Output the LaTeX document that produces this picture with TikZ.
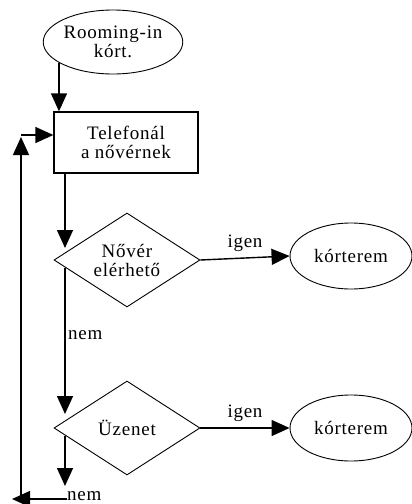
\documentclass[tikz,border=0pt]{standalone}
\usepackage{fontspec}
\setmainfont{Liberation Serif}[LetterSpace=4]
\usetikzlibrary{shapes.geometric,arrows.meta}
\begin{document}
\begin{tikzpicture}[x=1pt,y=-1pt,
  txt/.style={font=\fontsize{19}{19}\selectfont, align=center, inner sep=0pt},
  oval/.style={txt, ellipse, draw, line width=0.9pt, minimum width=122pt, minimum height=66pt},
  box/.style={txt, rectangle, draw, line width=1.3pt, minimum width=144pt, minimum height=61pt},
  decide/.style={txt, diamond, draw, line width=0.9pt, aspect=1.55, minimum width=146pt, minimum height=94pt},
  lbl/.style={font=\fontsize{19}{19}\selectfont, inner sep=0pt},
  arr/.style={line width=1.4pt, -{Triangle[length=18pt,width=16pt]}}]
\useasboundingbox (0,0) rectangle (412,504);
\node[oval, minimum width=126pt, minimum height=64pt] (e0) at (113,42) {Rooming-in\\kórt.};
\node[box] (r1) at (126,142.5) {Telefonál\\a nővérnek};
\node[decide] (d1) at (127,260) {Nővér\\elérhető};
\node[oval] (e1) at (351,256) {kórterem};
\node[decide] (d2) at (127,428) {Üzenet};
\node[oval] (e2) at (351,428) {kórterem};
\coordinate (a1) at (65,248);
\coordinate (b1) at (65,268);
\coordinate (a2) at (65,414);
\coordinate (b2) at (65,436);
\coordinate (a3) at (65,486);
\coordinate (lb) at (21,500);
\coordinate (lt) at (21,137);
\coordinate (lc) at (21,135);
\coordinate (lend) at (12,499);
\draw[arr] (e0.201) -- (e0.201 |- r1.north);
\draw[arr] (r1.south -| a1) -- (a1);
\draw[arr] (d1.east) -- node[lbl, above=6pt] {igen} (e1.west);
\draw[arr] (b1) -- (a2);
\node[lbl, anchor=west] (n1) at (68,335) {nem};
\draw[arr] (d2.east) -- node[lbl, above=6pt] {igen} (e2.west);
\draw[arr] (b2) -- (a3);
\node[lbl, anchor=west] (n2) at (67,496) {nem};
\draw[arr] (n2.west |- lend) -- (lend);
\draw[arr] (lb) -- (lt);
\draw[arr] (lc) -- (r1.west |- lc);
\end{tikzpicture}
\end{document}
